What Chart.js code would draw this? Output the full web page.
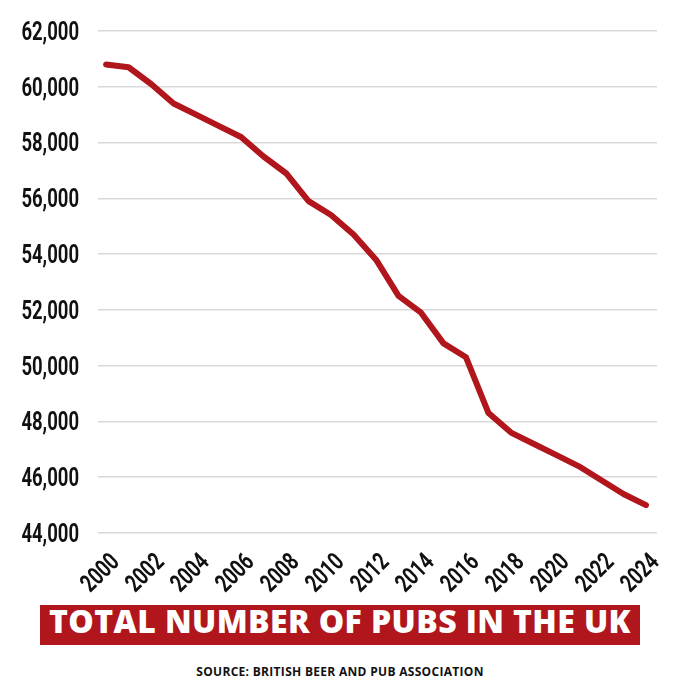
<!DOCTYPE html>
<html>
<head>
<meta charset="utf-8">
<script src="https://cdn.jsdelivr.net/npm/chart.js@4"></script>
<style>
  body { margin: 0; background: #fff; width: 680px; height: 680px; position: relative; overflow: hidden; }
  #wrap { position: absolute; left: 0; top: 0; width: 680px; height: 598px; }
  #banner {
    position: absolute; left: 40px; top: 605px; width: 600px; height: 40px;
    background: #b0161c; color: #fff; text-align: center; white-space: nowrap;
    font: 800 32px "Open Sans", sans-serif; line-height: 31px; letter-spacing: 0.4px;
  }
  #source {
    position: absolute; left: 0; top: 663px; width: 680px; text-align: center;
    font: 700 12px "Open Sans", sans-serif; letter-spacing: 0.3px; color: #111;
  }
</style>
</head>
<body>
<div id="wrap"><canvas id="pubChart"></canvas></div>
<div id="banner">TOTAL NUMBER OF PUBS IN THE UK</div>
<div id="source">SOURCE: BRITISH BEER AND PUB ASSOCIATION</div>
<script>
// pubs in the UK
const years = [2000, 2001, 2002, 2003, 2004, 2005, 2006, 2007, 2008, 2009, 2010, 2011, 2012,
               2013, 2014, 2015, 2016, 2017, 2018, 2019, 2020, 2021, 2022, 2023, 2024];
const pubs = [60800, 60700, 60100, 59400, 59000, 58600, 58200, 57500, 56900, 55900, 55400, 54700, 53800,
              52500, 51900, 50800, 50300, 48300, 47600, 47200, 46800, 46400, 45900, 45400, 45000];
const yearTicks = [2000, 2002, 2004, 2006, 2008, 2010, 2012, 2014, 2016, 2018, 2020, 2022, 2024];
const pubTicks = [44000, 46000, 48000, 50000, 52000, 54000, 56000, 58000, 60000, 62000];

// the tick font in the picture is very narrow, so squeeze a normal bold font sideways
const narrowTicks = {
  id: 'narrowTicks',
  afterDraw(chart) {
    const { ctx, scales: { x, y } } = chart;
    const squeeze = 0.74;
    const capH = 17.8;
    ctx.save();
    ctx.fillStyle = '#111';
    ctx.font = 'bold 25px Roboto';
    ctx.textAlign = 'right';
    ctx.textBaseline = 'alphabetic';

    y.ticks.forEach(t => {
      ctx.save();
      ctx.translate(y.right - 19, y.getPixelForValue(t.value));
      ctx.scale(squeeze, 1);
      ctx.fillText(t.value.toLocaleString('en-GB'), 0, capH / 2);
      ctx.restore();
    });

    x.ticks.forEach(t => {
      ctx.save();
      ctx.translate(x.getPixelForValue(t.value) + 8, x.top + 24);
      ctx.rotate(-Math.PI / 4);
      ctx.scale(squeeze, 1);
      ctx.fillText(String(t.value), 0, capH / 2);
      ctx.restore();
    });
    ctx.restore();
  }
};

const ctx = document.getElementById('pubChart');

new Chart(ctx, {
  type: 'line',
  data: {
    datasets: [{
      data: years.map((yr, i) => ({ x: yr, y: pubs[i] })),
      borderColor: '#b0161c',
      borderWidth: 6,
      pointRadius: 0,
      tension: 0,
      borderCapStyle: 'round',
      borderJoinStyle: 'round'
    }]
  },
  options: {
    responsive: true,
    maintainAspectRatio: false,
    animation: false,
    layout: { padding: { top: 31, right: 23, left: 0, bottom: 0 } },
    plugins: {
      legend: { display: false },
      tooltip: { enabled: false }
    },
    scales: {
      x: {
        type: 'linear',
        min: 1999.64,
        max: 2024.49,
        afterBuildTicks: s => { s.ticks = yearTicks.map(v => ({ value: v })); },
        afterFit: s => { s.height = 65; },
        grid: { display: false },
        border: { display: false },
        ticks: { display: false }
      },
      y: {
        min: 44000,
        max: 62000,
        afterBuildTicks: s => { s.ticks = pubTicks.map(v => ({ value: v })); },
        afterFit: s => { s.width = 98; },
        grid: { color: '#d9d9d9', lineWidth: 1.5, drawTicks: false },
        border: { display: false },
        ticks: { display: false }
      }
    }
  },
  plugins: [narrowTicks]
});
</script>
</body>
</html>
